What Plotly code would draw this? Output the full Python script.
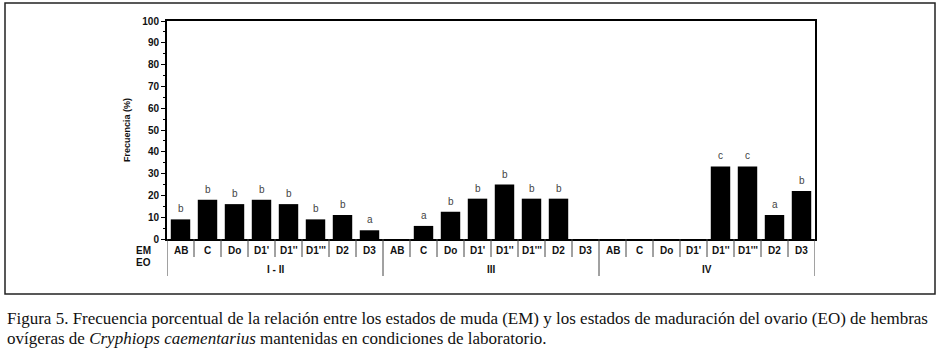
import plotly.graph_objects as go

# ---------------- data ----------------
em_labels = ["AB", "C", "Do", "D1'", "D1''", "D1'''", "D2", "D3"]
eo_groups = ["I - II", "III", "IV"]
values_I_II = [9, 18, 16, 18, 16, 9, 11, 4]
values_III = [0, 6, 12.5, 18.5, 25, 18.5, 18.5, 0]
values_IV = [0, 0, 0, 0, 33.3, 33.3, 11, 22]
letters_I_II = ["b", "b", "b", "b", "b", "b", "b", "a"]
letters_III = ["", "a", "b", "b", "b", "b", "b", ""]
letters_IV = ["", "", "", "", "c", "c", "a", "b"]
y_ticks = [0, 10, 20, 30, 40, 50, 60, 70, 80, 90, 100]

caption_1 = ("Figura 5. Frecuencia porcentual de la relación entre los estados de muda (EM) "
             "y los estados de maduración del ovario (EO) de hembras")
caption_2 = ("ovígeras de <i>Cryphiops caementarius</i> mantenidas en condiciones de laboratorio.")

# ---------------- build ----------------
values = values_I_II + values_III + values_IV
letters = letters_I_II + letters_III + letters_IV
cats = em_labels * len(eo_groups)
xs = list(range(len(values)))

W, H = 941, 352
L, R, T, B = 167, 815, 21, 239
pw, ph = R - L, B - T

def px_x(p):
    return (p - L) / pw

def px_y(p):
    return (B - p) / ph

fig = go.Figure()
fig.add_trace(go.Bar(x=xs, y=values, marker=dict(color="black", line=dict(width=0)),
                     hoverinfo="skip"))

annotations = []
shapes = []
lab_font = dict(family="Liberation Sans, Arial", size=10, color="#111", weight="bold")

for i, (v, lt) in enumerate(zip(values, letters)):
    if lt:
        annotations.append(dict(x=i, y=v, xref="x", yref="y", text=lt, showarrow=False,
                                xanchor="center", yanchor="bottom", yshift=3,
                                font=dict(family="Liberation Sans, Arial", size=10, color="#444")))

for i, c in enumerate(cats):
    annotations.append(dict(x=i, y=px_y(250), xref="x", yref="paper", text=c,
                            xanchor="center", yanchor="middle",
                            showarrow=False, font=lab_font))

n = len(em_labels)
for g, name in enumerate(eo_groups):
    annotations.append(dict(x=g * n + (n - 1) / 2, y=px_y(269), xref="x", yref="paper",
                            xanchor="center", yanchor="middle",
                            text=name, showarrow=False, font=lab_font))

annotations.append(dict(x=px_x(143), y=px_y(250), xref="paper", yref="paper", text="EM",
                        xanchor="center", yanchor="middle", showarrow=False, font=lab_font))
annotations.append(dict(x=px_x(143), y=px_y(262), xref="paper", yref="paper", text="EO",
                        xanchor="center", yanchor="middle", showarrow=False, font=lab_font))
annotations.append(dict(x=px_x(127), y=px_y(130), xref="paper", yref="paper",
                        text="Frecuencia (%)", textangle=-90, showarrow=False,
                        xanchor="center", yanchor="middle",
                        font=dict(family="Liberation Sans, Arial", size=9, color="#111",
                                  weight="bold")))

cap_font = dict(family="Liberation Serif, Times New Roman", size=17, color="#111")
annotations.append(dict(x=px_x(5), y=px_y(318), xref="paper", yref="paper", text=caption_1,
                        showarrow=False, xanchor="left", yanchor="middle", font=cap_font))
annotations.append(dict(x=px_x(5), y=px_y(338), xref="paper", yref="paper", text=caption_2,
                        showarrow=False, xanchor="left", yanchor="middle", font=cap_font))

# separators
for k in range(len(values) + 1):
    xb = k - 0.5
    is_group = (k % n == 0)
    shapes.append(dict(type="line", xref="x", yref="paper", x0=xb, x1=xb,
                       y0=0, y1=px_y(276 if is_group else 257),
                       line=dict(color="#444", width=1)))

# outer frame
shapes.append(dict(type="rect", xref="paper", yref="paper",
                   x0=px_x(5), x1=px_x(935), y0=px_y(294), y1=px_y(3),
                   line=dict(color="#222", width=1.5)))

fig.update_layout(
    width=W, height=H,
    margin=dict(l=L, r=W - R, t=T, b=H - B, pad=0),
    paper_bgcolor="white", plot_bgcolor="white",
    showlegend=False, bargap=0.28,
    annotations=annotations, shapes=shapes,
    xaxis=dict(range=[-0.5, len(values) - 0.5], showticklabels=False, ticks="",
               showgrid=False, zeroline=False, showline=True, mirror=True,
               linecolor="black", linewidth=2, fixedrange=True),
    yaxis=dict(range=[0, 100], tickvals=y_ticks, ticks="outside", ticklen=4, tickwidth=1,
               tickcolor="black", showgrid=False, zeroline=False, showline=True,
               mirror=True, linecolor="black", linewidth=2,
               minor=dict(dtick=5, ticks="outside", ticklen=2, tickcolor="black"),
               tickfont=dict(family="Liberation Sans, Arial", size=10, color="#111",
                             weight="bold"),
               fixedrange=True),
)

fig.write_html("out.html")
